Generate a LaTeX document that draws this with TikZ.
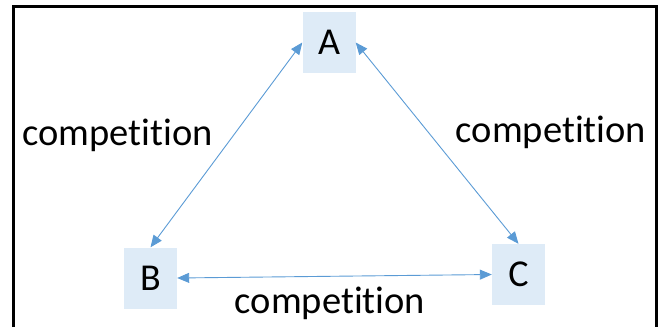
\documentclass[tikz,border=0pt]{standalone}
\usepackage{fontspec}
\setmainfont[Ligatures=NoCommon]{Carlito}
\usetikzlibrary{arrows.meta}
\definecolor{boxfill}{HTML}{DEEBF7}
\definecolor{linkblue}{HTML}{5B9BD5}
\tikzset{
  box/.style={fill=boxfill, draw=none, minimum width=53pt, minimum height=61pt, inner sep=0pt, font=\fontsize{38}{44}\selectfont},
  lbl/.style={anchor=base, inner sep=0pt, font=\fontsize{38.5}{44}\selectfont},
  link/.style={draw=linkblue, line width=0.9pt, {Triangle[length=12pt,width=10pt]}-{Triangle[length=12pt,width=10pt]}}
}
\begin{document}
\begin{tikzpicture}[x=1pt,y=-1pt]
\useasboundingbox (0,0) rectangle (662,327);
\draw[line width=3pt] (13.5,327) -- (13.5,6) -- (656.5,6) -- (656.5,327);
\node[box] (A) at (329,42.5) {A};
\node[box] (B) at (150.5,278) {B};
\node[box] (C) at (518.5,274.5) {C};
\draw[link] (A.west) -- (B.north);
\draw[link] (A.east) -- (C.north);
\draw[link] (B.east) -- (C.west);
\node[lbl] (l1) at (117.5,145) {competition};
\node[lbl] (l2) at (551,142) {competition};
\node[lbl] (l3) at (330,313) {competition};
\end{tikzpicture}
\end{document}
